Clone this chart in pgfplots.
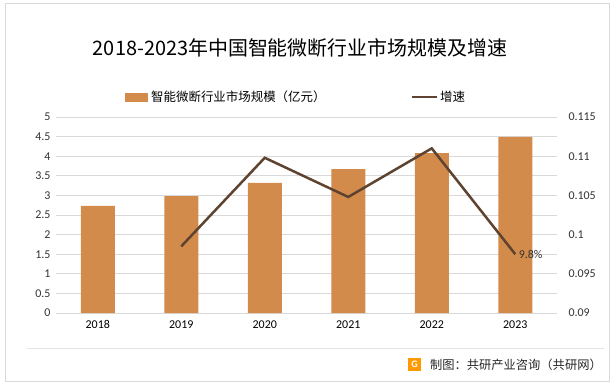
\documentclass[border=0pt]{standalone}
\usepackage{pgfplots}
\pgfplotsset{compat=1.18}
\usepackage{fontspec}
\setmainfont{Carlito}
\newfontfamily\cjk{Noto Sans CJK SC}
\definecolor{barc}{HTML}{D38B4C}
\definecolor{linec}{HTML}{5E4330}
\definecolor{gridc}{HTML}{D9D9D9}
\begin{document}
\begin{tikzpicture}[x=1bp,y=1bp]
\path[use as bounding box] (0,0) rectangle (616,387);
\draw[gridc, line width=1bp] (5,6) rectangle (609,383);
\draw[gridc!70, line width=0.8bp] (27,39) -- (604,39);
\node[font=\cjk\fontsize{20}{20}\selectfont, text=black] at (300,339) {2018-2023年中国智能微断行业市场规模及增速};
\fill[barc] (125,285) rectangle (148,294);
\node[anchor=west, font=\cjk\fontsize{12.5}{12.5}\selectfont, inner sep=0] at (151,290) {智能微断行业市场规模（亿元）};
\draw[linec, line width=2.5bp] (412,290) -- (437,290);
\node[anchor=west, font=\cjk\fontsize{12.5}{12.5}\selectfont, inner sep=0] at (440,290) {增速};
\fill[orange!80!yellow] (408,16) rectangle (421,29);
\node[text=white, font=\bfseries\fontsize{10}{10}\selectfont, inner sep=0] at (414.5,22.5) {G};
\node[anchor=west, font=\cjk\fontsize{12.3}{12.3}\selectfont, inner sep=0, text=black!85] at (430,22) {制图：共研产业咨询（共研网）};
\begin{axis}[
  at={(56bp,74bp)}, anchor=south west,
  scale only axis, width=501bp, height=196bp,
  xmin=-0.5, xmax=5.5, ymin=0, ymax=5,
  xtick={0,1,2,3,4,5},
  xticklabels={2018,2019,2020,2021,2022,2023},
  ytick={0,0.5,1,1.5,2,2.5,3,3.5,4,4.5,5},
  yticklabels={0,0.5,1,1.5,2,2.5,3,3.5,4,4.5,5},
  axis line style={draw=none},
  major tick length=0pt,
  ymajorgrids, grid style={gridc, line width=0.8bp},
  tick label style={font=\fontsize{12}{12}\selectfont, text=black!80},
  xticklabel style={text=black, yshift=-4bp},
  yticklabel style={xshift=-2bp},
]
\addplot[ybar, bar width=34bp, fill=barc, draw=none] coordinates {
(0,2.73) (1,2.98) (2,3.32) (3,3.67) (4,4.08) (5,4.49)};
\end{axis}
\begin{axis}[
  at={(56bp,74bp)}, anchor=south west,
  scale only axis, width=501bp, height=196bp,
  xmin=-0.5, xmax=5.5, ymin=0.09, ymax=0.115,
  axis y line*=right, axis x line=none,
  axis line style={draw=none},
  major tick length=0pt,
  ytick={0.09,0.095,0.1,0.105,0.11,0.115},
  yticklabels={0.09,0.095,0.1,0.105,0.11,0.115},
  tick label style={font=\fontsize{12}{12}\selectfont, text=black!80},
  yticklabel style={xshift=8bp},
]
\addplot[linec, line width=2.5bp, mark=none] coordinates {
(1,0.0985) (2,0.1098) (3,0.1048) (4,0.1110) (5,0.0975)};
\node[anchor=west, font=\fontsize{12}{12}\selectfont, text=black!80] at (axis cs:5,0.0975) {9.8\%};
\end{axis}
\end{tikzpicture}
\end{document}
